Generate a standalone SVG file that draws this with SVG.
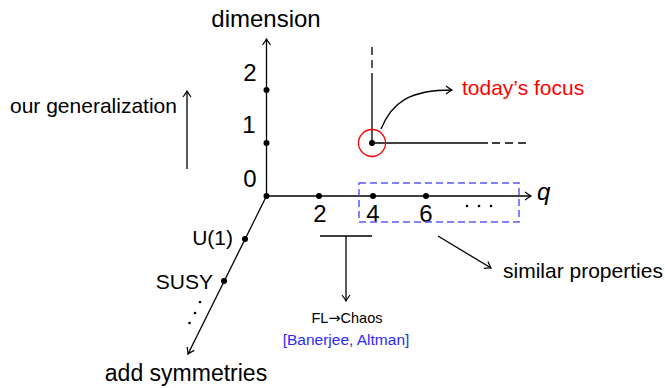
<svg xmlns="http://www.w3.org/2000/svg" width="665" height="388" viewBox="0 0 665 388">
<style>
text{font-family:"Liberation Sans",Arial,sans-serif;fill:#000}
.ax{stroke:#000;stroke-width:1.3;fill:none}
.dot{fill:#000}
.big{font-size:24px}
.mid{font-size:21px}
.red{fill:#ff0000}
.blue{fill:#2a2aff}
</style>
<defs>
<marker id="arr" viewBox="-8 -6 10 12" refX="0" refY="0" markerWidth="10" markerHeight="12" markerUnits="userSpaceOnUse" orient="auto">
<path d="M-6,-4 Q-2,-1 0,0 Q-2,1 -6,4" fill="none" stroke="#000" stroke-width="1.2"/>
</marker>
</defs>
<g id="connectors">
<line class="ax" x1="266.5" y1="196" x2="266.5" y2="39" marker-end="url(#arr)"/>
<line class="ax" x1="266.5" y1="196" x2="531" y2="196" marker-end="url(#arr)"/>
<line class="ax" x1="266.5" y1="196" x2="188" y2="354" marker-end="url(#arr)"/>
<line class="ax" x1="187" y1="169" x2="187" y2="91" stroke-width="1.1" marker-end="url(#arr)"/>
<line class="ax" x1="372" y1="143" x2="372" y2="81"/>
<line class="ax" x1="372" y1="81" x2="372" y2="42" stroke-dasharray="8 5"/>
<line class="ax" x1="372" y1="143" x2="488" y2="143"/>
<line class="ax" x1="492" y1="143" x2="527" y2="143" stroke-dasharray="8 5"/>
<path class="ax" d="M381,129 C392,102 410,90 452,90" stroke-width="1.2" marker-end="url(#arr)"/>
<line class="ax" x1="320" y1="236" x2="372" y2="236" stroke-width="1.1"/>
<line class="ax" x1="346" y1="236" x2="346" y2="301" stroke-width="1.1" marker-end="url(#arr)"/>
<line class="ax" x1="438" y1="236" x2="491" y2="268" stroke-width="1.1" marker-end="url(#arr)"/>
</g>
<g id="dimension-axis">
<text class="big" x="266" y="27" text-anchor="middle">dimension</text>
<circle class="dot" cx="266.5" cy="196" r="3"/>
<circle class="dot" cx="266.5" cy="143" r="3"/>
<circle class="dot" cx="266.5" cy="90" r="3"/>
<text class="big" x="250" y="187" text-anchor="middle">0</text>
<text class="big" x="249" y="133" text-anchor="middle">1</text>
<text class="big" x="250" y="81" text-anchor="middle">2</text>
</g>
<g id="generalization">
<text class="mid" x="10" y="113">our generalization</text>
</g>
<g id="q-axis">
<circle class="dot" cx="319" cy="196" r="3"/>
<circle class="dot" cx="373" cy="196" r="3"/>
<circle class="dot" cx="426" cy="196" r="3"/>
<text class="big" x="320" y="222" text-anchor="middle">2</text>
<text class="big" x="373" y="222" text-anchor="middle">4</text>
<text class="big" x="426" y="222" text-anchor="middle">6</text>
<circle class="dot" cx="467" cy="206" r="1.3"/>
<circle class="dot" cx="479" cy="206" r="1.3"/>
<circle class="dot" cx="491" cy="206" r="1.3"/>
<text class="big" x="537" y="200" font-style="italic">q</text>
</g>
<g id="similar-box">
<rect x="359" y="183" width="160" height="39" fill="none" stroke="#5a5aff" stroke-width="1.5" stroke-dasharray="7 4"/>
<text class="mid" x="503" y="278">similar properties</text>
</g>
<g id="symmetry-axis">
<circle class="dot" cx="245" cy="239" r="3"/>
<circle class="dot" cx="224" cy="281" r="3"/>
<text class="mid" x="233" y="245" text-anchor="end">U(1)</text>
<text class="mid" x="213" y="289" text-anchor="end">SUSY</text>
<circle class="dot" cx="200" cy="302" r="1.3"/>
<circle class="dot" cx="195" cy="313" r="1.3"/>
<circle class="dot" cx="189.5" cy="323" r="1.3"/>
<text x="186" y="381" font-size="23px" text-anchor="middle">add symmetries</text>
</g>
<g id="focus">
<circle cx="372" cy="143" r="13.5" fill="none" stroke="#ff0000" stroke-width="1.3"/>
<circle class="dot" cx="372" cy="143" r="3"/>
<text class="mid red" x="462" y="95">today’s focus</text>
</g>
<g id="chaos">
<text x="347" y="323" font-size="14.5" text-anchor="middle">FL<tspan font-family="DejaVu Sans, sans-serif">→</tspan>Chaos</text>
<text class="blue" x="346" y="345" font-size="15.5" text-anchor="middle">[Banerjee, Altman]</text>
</g>
</svg>
